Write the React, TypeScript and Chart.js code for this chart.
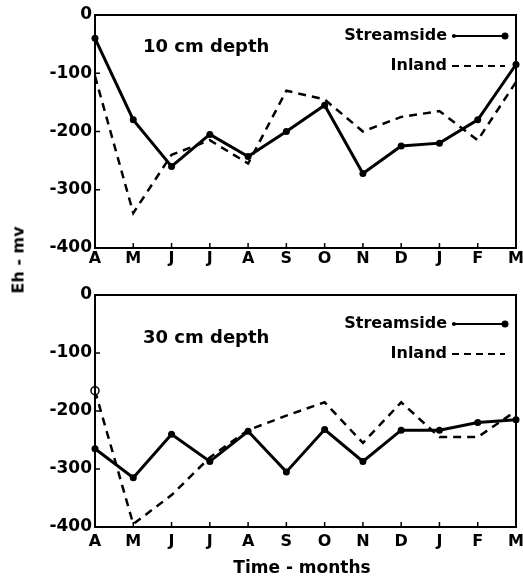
import React, { useEffect, useRef } from "react";
import { Chart, registerables } from "chart.js";

Chart.register(...registerables);

// ---- data ----
const months = ["A", "M", "J", "J", "A", "S", "O", "N", "D", "J", "F", "M"];
const yTicks = [0, -100, -200, -300, -400];
const streamside10 = [-40, -180, -260, -205, -243, -200, -155, -272, -225, -220, -180, -85];
const inland10 = [-105, -340, -240, -215, -255, -130, -145, -200, -175, -165, -215, -115];
const streamside30 = [-265, -315, -240, -287, -235, -305, -232, -287, -233, -233, -220, -215];
const inland30 = [-165, -395, -345, -280, -233, -208, -185, -255, -185, -245, -245, -200];
const seriesNames = ["Streamside", "Inland"];
const depthLabels = ["10 cm depth", "30 cm depth"];
const yTitle = "Eh - mv";
const xTitle = "Time - months";

const FONT = '"DejaVu Sans", "Liberation Sans", Arial, sans-serif';

function decorPlugin(depth: string, stY: number, inY: number, depthY: number) {
  return {
    id: "decor",
    afterDraw(chart: any) {
      const { ctx, chartArea: a, scales } = chart;
      ctx.save();
      ctx.strokeStyle = "#000";
      ctx.fillStyle = "#000";
      ctx.lineWidth = 2;
      ctx.strokeRect(a.left, a.top, a.right - a.left, a.bottom - a.top);
      // small inward tick marks
      ctx.lineWidth = 1.5;
      months.forEach((_, i) => {
        const x = scales.x.getPixelForTick(i);
        ctx.beginPath();
        ctx.moveTo(x, a.bottom);
        ctx.lineTo(x, a.bottom - 5);
        ctx.stroke();
      });
      yTicks.forEach((v) => {
        const y = scales.y.getPixelForValue(v);
        ctx.beginPath();
        ctx.moveTo(a.left, y);
        ctx.lineTo(a.left + 5, y);
        ctx.stroke();
      });
      // depth label
      ctx.font = `bold 18px ${FONT}`;
      ctx.textBaseline = "middle";
      ctx.textAlign = "left";
      ctx.fillText(depth, a.left + 48, a.top + depthY);
      // legend
      ctx.font = `bold 16px ${FONT}`;
      ctx.textAlign = "right";
      const tx = a.right - 69;
      const s0 = a.right - 64;
      const s1 = a.right - 11;
      ctx.fillText(seriesNames[0], tx, a.top + stY);
      ctx.fillText(seriesNames[1], tx, a.top + inY);
      ctx.lineWidth = 2;
      ctx.setLineDash([]);
      ctx.beginPath();
      ctx.moveTo(s0, a.top + stY);
      ctx.lineTo(s1, a.top + stY);
      ctx.stroke();
      ctx.beginPath();
      ctx.arc(s0 + 2, a.top + stY, 2, 0, Math.PI * 2);
      ctx.fill();
      ctx.beginPath();
      ctx.arc(s1, a.top + stY, 3.5, 0, Math.PI * 2);
      ctx.fill();
      ctx.setLineDash([7, 5]);
      ctx.beginPath();
      ctx.moveTo(s0, a.top + inY);
      ctx.lineTo(s1, a.top + inY);
      ctx.stroke();
      ctx.restore();
    },
  };
}

function buildConfig(
  stream: number[],
  inland: number[],
  inlandRadius: number[],
  depth: string,
  padTop: number,
  xHeight: number,
  xPad: number,
  stY: number,
  inY: number,
  depthY: number
): any {
  const xFont = { family: FONT, weight: "bold", size: 16 };
  const yFont = { family: FONT, weight: "bold", size: 17 };
  return {
    type: "line",
    data: {
      labels: months,
      datasets: [
        {
          label: seriesNames[0],
          data: stream,
          borderColor: "#000",
          backgroundColor: "#000",
          borderWidth: 3,
          pointRadius: 3.5,
          pointBorderWidth: 0,
          tension: 0,
          clip: false,
        },
        {
          label: seriesNames[1],
          data: inland,
          borderColor: "#000",
          backgroundColor: "#fff",
          borderWidth: 2.5,
          borderDash: [8, 6],
          pointRadius: inlandRadius,
          pointBorderWidth: 1.5,
          pointBorderColor: "#000",
          tension: 0,
          clip: false,
        },
      ],
    },
    options: {
      responsive: false,
      animation: false,
      layout: { padding: { left: 0, right: 7, top: padTop, bottom: 0 } },
      plugins: { legend: { display: false }, tooltip: { enabled: false } },
      scales: {
        x: {
          type: "category",
          offset: false,
          grid: { display: false, drawTicks: false },
          border: { display: false },
          ticks: { color: "#000", font: xFont, padding: xPad, autoSkip: false, maxRotation: 0 },
          afterFit: (s: any) => {
            s.height = xHeight;
            s.paddingLeft = 0;
            s.paddingRight = 0;
          },
        },
        y: {
          min: -400,
          max: 0,
          grid: { display: false, drawTicks: false },
          border: { display: false },
          ticks: { color: "#000", font: yFont, padding: 3 },
          afterBuildTicks: (s: any) => {
            s.ticks = yTicks.map((v) => ({ value: v }));
          },
          afterFit: (s: any) => {
            s.width = 95;
            s.paddingTop = 0;
            s.paddingBottom = 0;
          },
        },
      },
    },
    plugins: [decorPlugin(depth, stY, inY, depthY)],
  };
}

export default function App() {
  const topRef = useRef<HTMLCanvasElement>(null);
  const botRef = useRef<HTMLCanvasElement>(null);

  useEffect(() => {
    const c1 = new Chart(
      topRef.current!,
      buildConfig(streamside10, inland10, months.map(() => 0), depthLabels[0], 15, 27, 1, 21, 51, 32)
    );
    const c2 = new Chart(
      botRef.current!,
      buildConfig(streamside30, inland30, months.map((_, i) => (i === 0 ? 4 : 0)), depthLabels[1], 20, 57, 5, 29, 59, 43)
    );
    return () => {
      c1.destroy();
      c2.destroy();
    };
  }, []);

  return (
    <div style={{ position: "absolute", left: 0, top: 0, width: 523, height: 584, background: "#fff" }}>
      <canvas
        ref={topRef}
        width={523}
        height={275}
        style={{ position: "absolute", left: 0, top: 0, width: 523, height: 275 }}
      />
      <canvas
        ref={botRef}
        width={523}
        height={309}
        style={{ position: "absolute", left: 0, top: 275, width: 523, height: 309 }}
      />
      <div
        style={{
          position: "absolute",
          left: 18,
          top: 260,
          transform: "translate(-50%, -50%) rotate(-90deg)",
          whiteSpace: "nowrap",
          font: `bold 16px ${FONT}`,
          color: "#000",
        }}
      >
        {yTitle}
      </div>
      <div
        style={{
          position: "absolute",
          left: 302,
          top: 567,
          transform: "translate(-50%, -50%)",
          whiteSpace: "nowrap",
          font: `bold 17px ${FONT}`,
          color: "#000",
        }}
      >
        {xTitle}
      </div>
    </div>
  );
}
